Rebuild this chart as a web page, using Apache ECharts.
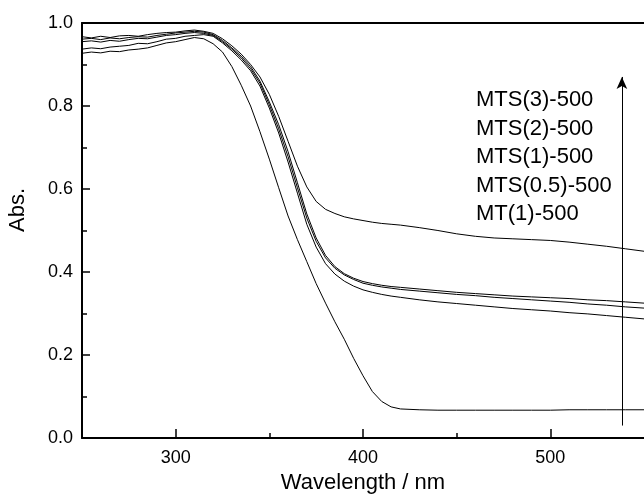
<!DOCTYPE html>
<html>
<head>
<meta charset="utf-8">
<script src="https://cdn.jsdelivr.net/npm/echarts@6/dist/echarts.min.js"></script>
<style>html,body{margin:0;padding:0;background:#fff}#c{width:644px;height:498px}</style>
</head>
<body>
<div id="c"></div>
<script>
// Wavelength (nm)
var wavelengths = [250,255,260,265,270,275,280,285,290,295,300,305,310,315,320,325,330,335,340,345,350,355,360,365,370,375,380,385,390,395,400,405,410,415,420,430,440,450,460,470,480,490,500,510,520,530,540,550];

var seriesNames = ['MTS(3)-500','MTS(2)-500','MTS(1)-500','MTS(0.5)-500','MT(1)-500'];

var absMTS3 = [0.967,0.964,0.968,0.965,0.969,0.970,0.968,0.972,0.975,0.977,0.978,0.981,0.983,0.980,0.975,0.962,0.945,0.925,0.900,0.870,0.828,0.775,0.715,0.655,0.605,0.570,0.551,0.541,0.533,0.528,0.524,0.520,0.517,0.515,0.513,0.507,0.500,0.492,0.486,0.482,0.480,0.478,0.476,0.472,0.467,0.462,0.456,0.450];
var absMTS2 = [0.961,0.963,0.960,0.964,0.962,0.965,0.967,0.966,0.970,0.973,0.976,0.978,0.980,0.978,0.972,0.958,0.940,0.920,0.895,0.860,0.810,0.755,0.690,0.615,0.540,0.482,0.440,0.413,0.396,0.385,0.377,0.372,0.368,0.365,0.363,0.359,0.355,0.351,0.348,0.345,0.342,0.340,0.338,0.336,0.333,0.331,0.328,0.325];
var absMTS1 = [0.955,0.957,0.954,0.958,0.956,0.960,0.963,0.962,0.966,0.970,0.972,0.975,0.977,0.975,0.970,0.955,0.937,0.916,0.890,0.855,0.803,0.745,0.678,0.603,0.530,0.474,0.434,0.409,0.393,0.382,0.373,0.368,0.364,0.361,0.358,0.354,0.350,0.346,0.343,0.339,0.336,0.333,0.330,0.327,0.323,0.320,0.316,0.313];
var absMTS05 = [0.937,0.940,0.938,0.942,0.944,0.946,0.951,0.950,0.955,0.961,0.963,0.968,0.970,0.972,0.968,0.952,0.933,0.911,0.885,0.848,0.795,0.735,0.665,0.590,0.515,0.460,0.420,0.395,0.378,0.366,0.357,0.351,0.346,0.342,0.339,0.333,0.328,0.324,0.320,0.316,0.312,0.309,0.306,0.302,0.299,0.295,0.291,0.287];
var absMT1 = [0.927,0.930,0.928,0.932,0.931,0.935,0.937,0.940,0.946,0.952,0.955,0.960,0.965,0.962,0.950,0.930,0.895,0.850,0.800,0.738,0.672,0.603,0.535,0.478,0.425,0.372,0.325,0.280,0.238,0.192,0.150,0.112,0.088,0.075,0.070,0.068,0.067,0.067,0.067,0.067,0.067,0.067,0.067,0.068,0.068,0.068,0.068,0.068];

var yTicks = [0, 0.2, 0.4, 0.6, 0.8, 1.0];
var xMajorTicks = [300, 400, 500];
var xMinorTicks = [350, 450];

var allValues = [absMTS3, absMTS2, absMTS1, absMTS05, absMT1];

function pairs(vals) {
  return wavelengths.map(function (w, i) { return [w, vals[i]]; });
}

var font = 'Liberation Sans, Arial, sans-serif';
var chart = echarts.init(document.getElementById('c'), null, {renderer: 'canvas'});

var series = allValues.map(function (v, i) {
  return {
    name: seriesNames[i],
    type: 'line',
    data: pairs(v),
    showSymbol: false,
    symbol: 'none',
    lineStyle: {color: '#000', width: 1},
    silent: true
  };
});
// arrow annotation
series[0].markLine = {
  silent: true,
  symbol: ['none', 'arrow'],
  symbolSize: [8, 12],
  label: {show: false},
  lineStyle: {color: '#000', width: 1, type: 'solid'},
  data: [[{coord: [538.2, 0.03]}, {coord: [538.2, 0.87]}]]
};

var legendGraphics = seriesNames.map(function (n, i) {
  return {
    type: 'text',
    left: 476,
    top: 100 + i * 28.6 - 11,
    style: {text: n, font: '22px ' + font, fill: '#000'}
  };
});

chart.setOption({
  animation: false,
  backgroundColor: '#fff',
  grid: {left: 82, top: 23, right: 0, bottom: 60, containLabel: false, outerBoundsMode: 'none'},
  xAxis: [
    {
      type: 'value', min: 250, max: 550, position: 'bottom',
      name: 'Wavelength / nm', nameLocation: 'middle', nameGap: 34,
      nameTextStyle: {fontFamily: font, fontSize: 22, color: '#000'},
      axisLine: {show: true, lineStyle: {color: '#000', width: 2}},
      axisTick: {show: true, inside: true, length: 9, customValues: xMajorTicks, lineStyle: {color: '#000', width: 1.5}},
      axisLabel: {show: true, customValues: xMajorTicks, fontFamily: font, fontSize: 18, color: '#000', margin: 11},
      splitLine: {show: false}
    },
    {
      type: 'value', min: 250, max: 550, position: 'bottom',
      axisLine: {show: false},
      axisTick: {show: true, inside: true, length: 5, customValues: xMinorTicks, lineStyle: {color: '#000', width: 1.5}},
      axisLabel: {show: false},
      splitLine: {show: false}
    },
    {
      type: 'value', min: 250, max: 550, position: 'top',
      axisLine: {show: true, lineStyle: {color: '#000', width: 2}},
      axisTick: {show: false}, axisLabel: {show: false}, splitLine: {show: false}
    }
  ],
  yAxis: {
    type: 'value', min: 0, max: 1, interval: 0.2,
    axisLine: {show: true, lineStyle: {color: '#000', width: 2}},
    axisTick: {show: true, inside: true, length: 8, lineStyle: {color: '#000', width: 1.5}},
    minorTick: {show: true, splitNumber: 2, length: 5, lineStyle: {color: '#000', width: 1.5}},
    axisLabel: {fontFamily: font, fontSize: 18, color: '#000', margin: 9,
      formatter: function (v) { return v.toFixed(1); }},
    splitLine: {show: false}
  },
  graphic: legendGraphics.concat([
    {
      type: 'text',
      x: 18, y: 210,
      rotation: Math.PI / 2,
      style: {text: 'Abs.', font: '22px ' + font, fill: '#000', align: 'center', verticalAlign: 'middle'}
    }
  ]),
  series: series
});
</script>
</body>
</html>
